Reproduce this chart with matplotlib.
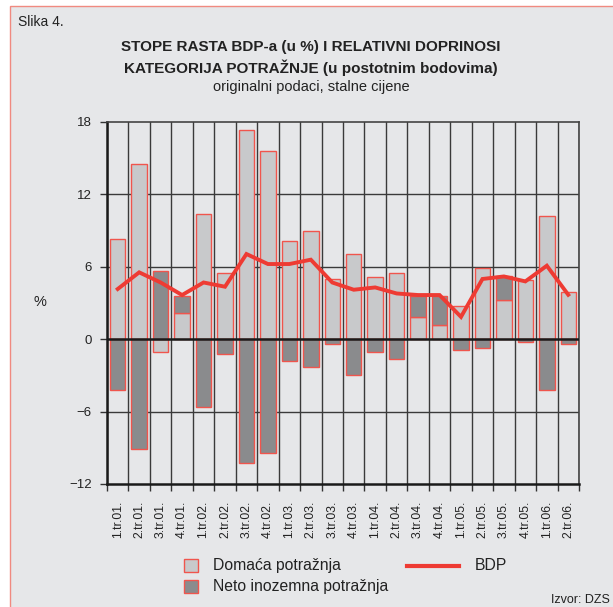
import matplotlib
matplotlib.use("Agg")
import matplotlib.pyplot as plt
from matplotlib.patches import Rectangle
from matplotlib.lines import Line2D
import numpy as np

plt.rcParams['font.family'] = ['Liberation Sans', 'DejaVu Sans']

categories = ["1.tr.01.", "2.tr.01.", "3.tr.01.", "4.tr.01.",
              "1.tr.02.", "2.tr.02.", "3.tr.02.", "4.tr.02.",
              "1.tr.03.", "2.tr.03.", "3.tr.03.", "4.tr.03.",
              "1.tr.04.", "2.tr.04.", "3.tr.04.", "4.tr.04.",
              "1.tr.05.", "2.tr.05.", "3.tr.05.", "4.tr.05.",
              "1.tr.06.", "2.tr.06."]
domaca = [8.3, 14.55, -1.06, 2.21, 10.36, 5.49, 17.3, 15.6,
          8.11, 9.0, 4.99, 7.06, 5.18, 5.49, 1.85, 1.16,
          2.71, 5.87, 3.24, 4.9, 10.19, 3.93]
neto = [-4.2, -9.06, 5.68, 1.39, -5.6, -1.25, -10.3, -9.42,
        -1.8, -2.27, -0.36, -2.97, -1.06, -1.6, 1.69, 2.44,
        -0.89, -0.75, 1.96, -0.2, -4.2, -0.42]
bdp = [4.16, 5.54, 4.7, 3.66, 4.7, 4.35, 7.06, 6.23,
       6.23, 6.59, 4.7, 4.1, 4.29, 3.79, 3.66, 3.66,
       1.85, 4.99, 5.2, 4.79, 6.09, 3.68]
yticks = [-12, -6, 0, 6, 12, 18]
legend_labels = ['Domaća potražnja', 'Neto inozemna potražnja', 'BDP']

W, H = 613, 607
fig = plt.figure(figsize=(W / 100, H / 100), dpi=100, facecolor='white')

BG = '#e6e7e9'
RED = '#ee3b33'
EDGE = '#f0554d'
LIGHT = '#c8c9cb'
DARK = '#8a8b8d'
TXT = '#222222'


def fx(px):
    return px / W


def fy(py):
    return 1 - py / H


# panel background
fig.patches.append(Rectangle((10 / W, -0.01), 1.05, (H - 6) / H + 0.01,
                             transform=fig.transFigure, facecolor=BG,
                             edgecolor='#f08a80', lw=1.0, zorder=-10))

ax = fig.add_axes([107 / W, 123 / H, 472 / W, 362 / H])
ax.set_facecolor(BG)

x = np.arange(len(categories))
pos = np.zeros(len(x))
neg = np.zeros(len(x))
for vals, col in ((domaca, LIGHT), (neto, DARK)):
    v = np.array(vals)
    bottoms = np.where(v >= 0, pos, neg)
    ax.bar(x, v, bottom=bottoms, width=0.72, color=col, edgecolor=EDGE,
           linewidth=1.0, zorder=3)
    pos = pos + np.where(v >= 0, v, 0)
    neg = neg + np.where(v < 0, v, 0)

ax.plot(x, bdp, color=RED, lw=2.8, zorder=5, solid_joinstyle='miter')

ax.set_xlim(-0.5, len(x) - 0.5)
ax.set_ylim(-12, 18)

# grid
for b in np.arange(-0.5, len(x) + 0.5, 1.0):
    ax.axvline(b, color='#3a3a3a', lw=1.0, zorder=1)
for yv in (6, 12, -6):
    ax.axhline(yv, color='#3a3a3a', lw=1.0, zorder=1)
ax.axhline(0, color='#1a1a1a', lw=1.8, zorder=4)

for s in ('top', 'right'):
    ax.spines[s].set_color('#444444')
    ax.spines[s].set_linewidth(1.2)
for s in ('left', 'bottom'):
    ax.spines[s].set_color('#1a1a1a')
    ax.spines[s].set_linewidth(1.8)

ax.set_yticks(yticks)
ax.set_yticklabels([str(t).replace('-', '\u2212') for t in yticks], fontsize=9.5, color=TXT)
ax.tick_params(axis='y', direction='out', length=5, width=1, color='#333333', pad=6)

ax.set_xticks(np.arange(-0.5, len(x) + 0.5, 1.0))
ax.set_xticklabels([])
ax.tick_params(axis='x', which='major', direction='out', length=5, width=1, color='#333333')
ax.set_xticks(x, minor=True)
ax.set_xticklabels(categories, minor=True, rotation=90, fontsize=8.8, color=TXT)
ax.tick_params(axis='x', which='minor', length=0, pad=12)

fig.text(fx(40), fy(302), '%', fontsize=10.5, ha='center', va='center', color=TXT)

fig.text(fx(18), fy(22), 'Slika 4.', fontsize=10, ha='left', va='center', color=TXT)
fig.text(fx(311), fy(47), 'STOPE RASTA BDP-a (u %) I RELATIVNI DOPRINOSI',
         fontsize=11, fontweight='bold', ha='center', va='center', color=TXT)
fig.text(fx(311), fy(68), 'KATEGORIJA POTRAŽNJE (u postotnim bodovima)',
         fontsize=11, fontweight='bold', ha='center', va='center', color=TXT)
fig.text(fx(311), fy(87), 'originalni podaci, stalne cijene',
         fontsize=10.5, ha='center', va='center', color=TXT)

# legend (manual)
for (y0, col, lab) in ((559, LIGHT, legend_labels[0]), (580, DARK, legend_labels[1])):
    fig.add_artist(Rectangle((fx(184), fy(y0 + 13)), 14 / W, 13 / H,
                             transform=fig.transFigure, facecolor=col,
                             edgecolor=EDGE, lw=1.0))
    fig.text(fx(213), fy(y0 + 6.5), lab, fontsize=11.3, ha='left', va='center', color=TXT)
fig.add_artist(Line2D([fx(407), fx(459)], [fy(565.5), fy(565.5)],
                      transform=fig.transFigure, color=RED, lw=3))
fig.text(fx(475), fy(565), legend_labels[2], fontsize=11.3, ha='left', va='center', color=TXT)

fig.text(fx(610), fy(600), 'Izvor: DZS', fontsize=9, ha='right', va='center', color=TXT)

fig.savefig('out.png', dpi=100, facecolor='white')
